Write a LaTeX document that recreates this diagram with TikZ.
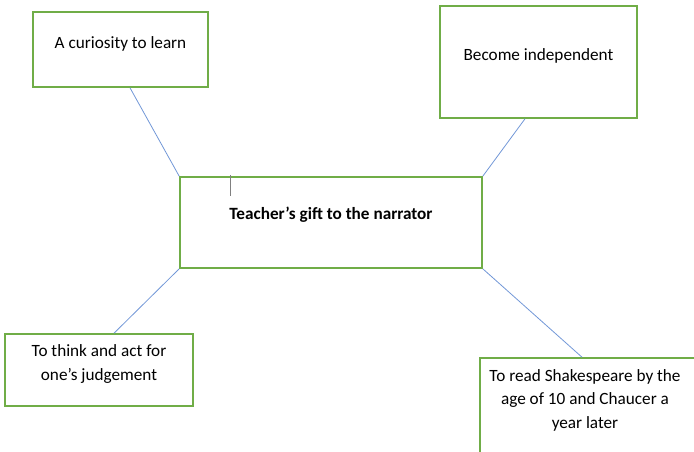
\documentclass[tikz,border=0pt]{standalone}
\usepackage{fontspec}
\setmainfont{Carlito}
\usetikzlibrary{positioning}
\definecolor{boxgreen}{RGB}{112,173,71}
\definecolor{linkblue}{RGB}{114,151,215}

\begin{document}
\begin{tikzpicture}[x=1pt,y=-1pt,
    box node/.style={rectangle,draw=boxgreen,line width=1.6pt,inner sep=0pt},
    text node/.style={align=center,font=\fontsize{17.2}{23.5}\selectfont,inner sep=0pt},
    link/.style={-,draw=linkblue,line width=0.8pt}]
  \useasboundingbox (0,0) rectangle (694,451);
  \begin{scope}
    \clip (0,0) rectangle (694,451);
    % boxes
    \node[box node,minimum width=175pt,minimum height=75pt] (curious) at (120.5,49.5) {};
    \node[box node,minimum width=197pt,minimum height=112pt] (indep) at (538.5,62) {};
    \node[box node,minimum width=302pt,minimum height=91pt] (gift) at (331,222.5) {};
    \node[box node,minimum width=188pt,minimum height=72pt] (think) at (99,370) {};
    \node[box node,minimum width=240pt,minimum height=120pt] (read) at (600,418) {};
    % texts
    \node[text node] (curioustext) at (120.5,44) {A curiosity to learn};
    \node[text node] (indeptext) at (538.5,56) {Become independent};
    \node[text node,font=\fontsize{17.2}{23.5}\selectfont\bfseries] (gifttext) at (331,215) {Teacher’s gift to the narrator};
    \node[text node] (thinktext) at (99,364) {To think and act for\\one’s judgement};
    \node[text node] (readtext) at (585,400) {To read Shakespeare by the\\age of 10 and Chaucer a\\year later};
    % cursor mark
    \draw[gray,line width=0.8pt] (230,175) -- (230,196);
    % links
    \path[link] ([xshift=9.5pt]curious.south) edge (gift.north west);
    \path[link] ([xshift=-13.5pt]indep.south) edge (gift.north east);
    \path[link] (gift.south west) edge ([xshift=15pt]think.north);
    \path[link] (gift.south east) edge ([xshift=-18pt]read.north);
  \end{scope}
\end{tikzpicture}
\end{document}
